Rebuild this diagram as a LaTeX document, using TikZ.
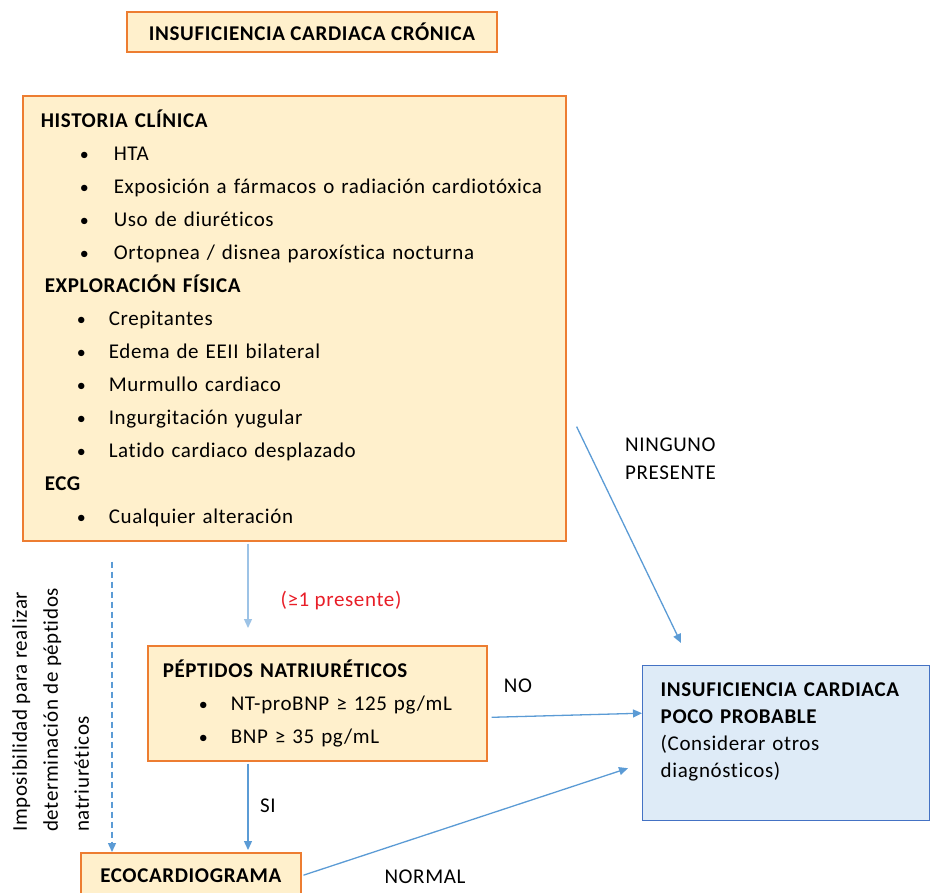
\documentclass[tikz,border=0pt]{standalone}
\usepackage{fontspec}
\setmainfont{Carlito}[LetterSpace=3, Ligatures=NoCommon]
\usetikzlibrary{arrows.meta}

\definecolor{naranja}{RGB}{237,125,49}
\definecolor{crema}{RGB}{255,240,204}
\definecolor{azul}{RGB}{68,114,196}
\definecolor{celeste}{RGB}{222,235,247}
\definecolor{flecha}{RGB}{91,155,213}
\definecolor{flechaclara}{RGB}{157,195,230}
\definecolor{rojo}{RGB}{232,30,40}

\newcommand{\itm}[3]{\hspace*{#1pt}\makebox[#2pt][l]{\fontsize{18}{18}\selectfont•}#3}

\tikzset{
  cajanaranja/.style={draw=naranja, fill=crema, line width=1.6pt, inner sep=0pt},
  cajaazul/.style={draw=azul, fill=celeste, line width=1.4pt, inner sep=0pt},
  flechaazul/.style={draw=flecha, line width=1.3pt, -{Triangle[length=9pt,width=8pt]}},
  etiqueta/.style={inner sep=0pt, font=\fontsize{21}{28}\selectfont}
}

\begin{document}
\begin{tikzpicture}[x=1pt,y=-1pt]
\useasboundingbox (0,0) rectangle (931,892);

% cajas
\node[cajanaranja, minimum width=370, minimum height=40, font=\fontsize{21}{24}\selectfont\bfseries] (titulo) at (312,32) {INSUFICIENCIA CARDIACA CRÓNICA};

\node[cajanaranja, anchor=north west, minimum width=543, minimum height=445,
  text width=527, inner xsep=8pt, align=left, font=\fontsize{21}{33}\selectfont] (hc) at (22,95) {%
  \hspace*{10pt}\textbf{HISTORIA CLÍNICA}\\
  \itm{49}{34}{HTA}\\
  \itm{49}{34}{Exposición a fármacos o radiación cardiotóxica}\\
  \itm{49}{34}{Uso de diuréticos}\\
  \itm{49}{34}{Ortopnea / disnea paroxística nocturna}\\
  \hspace*{14pt}\textbf{EXPLORACIÓN FÍSICA}\\
  \itm{46}{32}{Crepitantes}\\
  \itm{46}{32}{Edema de EEII bilateral}\\
  \itm{46}{32}{Murmullo cardiaco}\\
  \itm{46}{32}{Ingurgitación yugular}\\
  \itm{46}{32}{Latido cardiaco desplazado}\\
  \hspace*{14pt}\textbf{ECG}\\
  \itm{46}{32}{Cualquier alteración}};

\node[cajanaranja, anchor=north west, minimum width=339, minimum height=115,
  text width=319, inner xsep=10pt, align=left, font=\fontsize{21}{33}\selectfont] (pep) at (147,645) {%
  \hspace*{5pt}\textbf{PÉPTIDOS NATRIURÉTICOS}\\
  \itm{41}{32}{NT-proBNP ≥ 125 pg/mL}\\
  \itm{41}{32}{BNP ≥ 35 pg/mL}};

\node[cajaazul, anchor=north west, minimum width=287, minimum height=155,
  text width=269, inner xsep=9pt, align=left, font=\fontsize{21}{27}\selectfont] (rb) at (642,665) {%
  \hspace*{9pt}\textbf{INSUFICIENCIA CARDIACA}\\
  \hspace*{9pt}\textbf{POCO PROBABLE}\\
  \hspace*{9pt}(Considerar otros\\
  \hspace*{9pt}diagnósticos)\\
  \mbox{}};

\node[cajanaranja, anchor=north west, minimum width=220, minimum height=46,
  font=\fontsize{21}{24}\selectfont\bfseries] (eco) at (80,852) {ECOCARDIOGRAMA};

% flechas
\draw[flechaazul, draw=flechaclara, shorten <=2pt, shorten >=17pt]
  ([xshift=226pt]hc.south west) -- ([xshift=101pt]pep.north west);
\draw[flechaazul, dash pattern=on 6pt off 4pt, shorten <=20pt]
  ([xshift=90pt]hc.south west) -- ([xshift=32pt]eco.north west);
\draw[flechaazul, shorten <=2pt, shorten >=2pt]
  ([xshift=101pt]pep.south west) -- ([xshift=168pt]eco.north west);
\draw[flechaazul]
  ([shift={(10pt,115pt)}]hc.south east) -- ([shift={(39pt,22pt)}]rb.north west);
\draw[flechaazul]
  ([shift={(4pt,-14pt)}]pep.east) -- ([yshift=30pt]rb.west);
\draw[flechaazul, shorten <=2pt]
  (eco.east) -- ([shift={(-14pt,-25pt)}]rb.west);

% etiquetas
\node[etiqueta, text=rojo] (presente) at (341,601) {(≥1 presente)};
\node[etiqueta, anchor=west, align=left] (ninguno) at (625,459) {NINGUNO\\PRESENTE};
\node[etiqueta] (no) at (518,686) {NO};
\node[etiqueta] (si) at (268,806) {SI};
\node[etiqueta] (normal) at (425,877) {NORMAL};
\node[etiqueta, rotate=90, anchor=north west, align=left, font=\fontsize{21}{31}\selectfont] (imposible) at (12,832)
  {Imposibilidad para realizar\\determinación de péptidos\\natriuréticos};
\end{tikzpicture}
\end{document}
